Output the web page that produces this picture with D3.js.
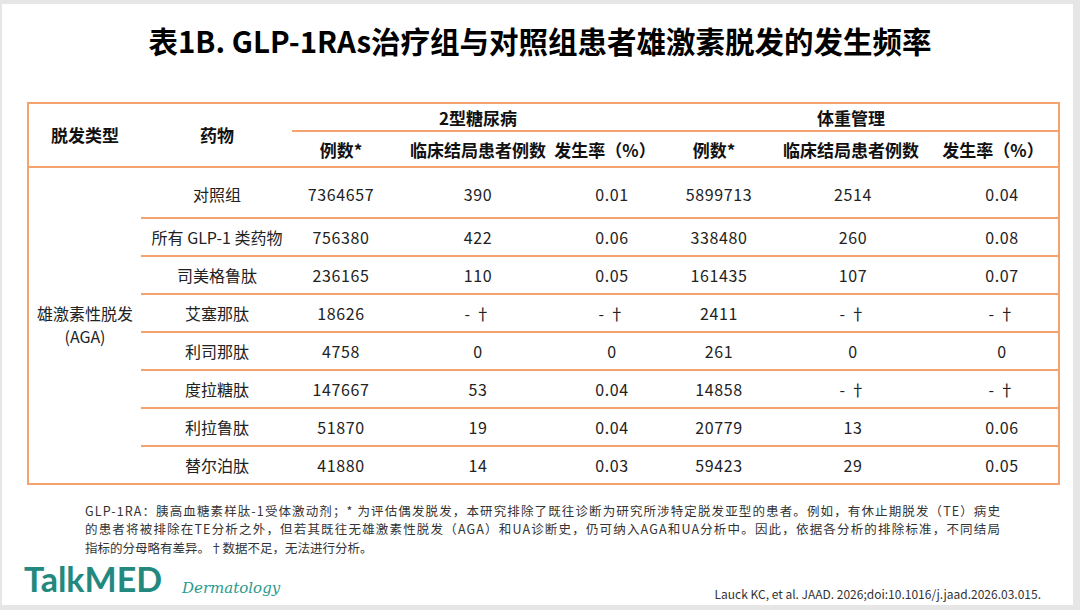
<!DOCTYPE html>
<html>
<head>
<meta charset="utf-8">
<script src="https://cdn.jsdelivr.net/npm/d3@7"></script>
<style>
  body { margin: 0; background: #fff; }
  svg { display: block; font-family: "Noto Sans CJK SC", "Noto Sans", sans-serif; }
</style>
</head>
<body>
<div id="main"></div>
<script>
// table data
var drugs = ["对照组", "所有 GLP-1 类药物", "司美格鲁肽", "艾塞那肽", "利司那肽", "度拉糖肽", "利拉鲁肽", "替尔泊肽"];
var t2dCases = ["7364657", "756380", "236165", "18626", "4758", "147667", "51870", "41880"];
var t2dOutcomes = ["390", "422", "110", "- †", "0", "53", "19", "14"];
var t2dRates = ["0.01", "0.06", "0.05", "- †", "0", "0.04", "0.04", "0.03"];
var wmCases = ["5899713", "338480", "161435", "2411", "261", "14858", "20779", "59423"];
var wmOutcomes = ["2514", "260", "107", "- †", "0", "- †", "13", "29"];
var wmRates = ["0.04", "0.08", "0.07", "- †", "0", "- †", "0.06", "0.05"];

var groups = ["2型糖尿病", "体重管理"];
var subHeaders = ["例数*", "临床结局患者例数", "发生率（%）"];

var titleText = "表1B. GLP-1RAs治疗组与对照组患者雄激素脱发的发生频率";
var noteLines = [
  "GLP-1RA：胰高血糖素样肽-1受体激动剂；* 为评估偶发脱发，本研究排除了既往诊断为研究所涉特定脱发亚型的患者。例如，有休止期脱发（TE）病史",
  "的患者将被排除在TE分析之外，但若其既往无雄激素性脱发（AGA）和UA诊断史，仍可纳入AGA和UA分析中。因此，依据各分析的排除标准，不同结局",
  "指标的分母略有差异。†数据不足，无法进行分析。"
];
var citation = "Lauck KC, et al. JAAD. 2026;doi:10.1016/j.jaad.2026.03.015.";

var W = 1080, H = 610;
var LINE = "#f4a26e";
var box = { left: 28, right: 1059, top: 103, bottom: 484 };
var headerMid = 131, headerBottom = 167, firstRowBottom = 218;

var svg = d3.select("#main").append("svg")
  .attr("width", W)
  .attr("height", H);

// slide frame
svg.append("rect").attr("width", W).attr("height", H).attr("fill", "#e6e6e6");
svg.append("rect").attr("x", 2).attr("y", 4).attr("width", W - 9).attr("height", H - 9).attr("fill", "#fff");

// title
svg.append("text")
  .attr("x", W / 2)
  .attr("y", 40)
  .attr("text-anchor", "middle")
  .attr("dominant-baseline", "central")
  .attr("font-size", 29.5)
  .attr("font-weight", 700)
  .attr("fill", "#000")
  .text(titleText);

// columns
var colKeys = ["type", "drug", "t2dCases", "t2dOutcomes", "t2dRates", "wmCases", "wmOutcomes", "wmRates"];
var xCol = d3.scaleOrdinal()
  .domain(colKeys)
  .range([85, 217, 341, 478, 605, 714, 851, 993]);
var xVal = d3.scaleOrdinal()
  .domain(colKeys)
  .range([85, 217, 341, 478, 612, 719, 853, 1002]);

// rows: first row taller, the rest evenly spaced
var rowTop = d3.scaleLinear().domain([1, drugs.length]).range([firstRowBottom, box.bottom]);
function rowCenter(i) {
  return i === 0 ? (headerBottom + firstRowBottom) / 2 + 1 : (rowTop(i) + rowTop(i + 1)) / 2;
}

var grid = svg.append("g").attr("stroke", LINE).attr("stroke-width", 2).attr("fill", "none");
grid.append("rect")
  .attr("x", box.left).attr("y", box.top)
  .attr("width", box.right - box.left).attr("height", box.bottom - box.top);
grid.append("line")
  .attr("x1", 292).attr("x2", box.right)
  .attr("y1", headerMid).attr("y2", headerMid);
grid.append("line")
  .attr("x1", box.left).attr("x2", box.right)
  .attr("y1", headerBottom).attr("y2", headerBottom);
grid.selectAll("line.row")
  .data(d3.range(1, drugs.length))
  .enter().append("line")
  .classed("row", true)
  .attr("x1", 141).attr("x2", box.right)
  .attr("y1", d => rowTop(d)).attr("y2", d => rowTop(d));

// header
var head = svg.append("g")
  .attr("font-size", 17)
  .attr("font-weight", 700)
  .attr("fill", "#111")
  .attr("text-anchor", "middle")
  .attr("dominant-baseline", "central");

head.append("text").attr("x", xCol("type")).attr("y", 134).text("脱发类型");
head.append("text").attr("x", xCol("drug")).attr("y", 134).text("药物");

head.selectAll("text.group")
  .data(groups)
  .enter().append("text")
  .classed("group", true)
  .attr("x", (d, i) => i === 0 ? xCol("t2dOutcomes") : xCol("wmOutcomes"))
  .attr("y", 117)
  .text(d => d);

var subCols = ["t2dCases", "t2dOutcomes", "t2dRates", "wmCases", "wmOutcomes", "wmRates"];
head.selectAll("text.sub")
  .data(subCols)
  .enter().append("text")
  .classed("sub", true)
  .attr("x", d => xCol(d))
  .attr("y", 149)
  .text((d, i) => subHeaders[i % 3]);

// body
var body = svg.append("g")
  .attr("font-size", 16)
  .attr("fill", "#222")
  .attr("text-anchor", "middle")
  .attr("dominant-baseline", "central");

body.append("text").attr("x", xCol("type")).attr("y", 313).text("雄激素性脱发");
body.append("text").attr("x", xCol("type")).attr("y", 336).text("(AGA)");

var columns = {
  drug: drugs,
  t2dCases: t2dCases,
  t2dOutcomes: t2dOutcomes,
  t2dRates: t2dRates,
  wmCases: wmCases,
  wmOutcomes: wmOutcomes,
  wmRates: wmRates
};

Object.keys(columns).forEach(function (key) {
  body.selectAll(null)
    .data(columns[key])
    .enter().append("text")
    .attr("x", xVal(key))
    .attr("y", (d, i) => rowCenter(i))
    .attr("letter-spacing", key === "drug" ? 0 : 0.6)
    .text(d => d);
});

// footnote
svg.append("g")
  .attr("font-size", 12.5)
  .attr("fill", "#333")
  .selectAll("text")
  .data(noteLines)
  .enter().append("text")
  .attr("x", 85)
  .attr("y", (d, i) => 516 + i * 18.3)
  .attr("textLength", (d, i) => i < 2 ? 915 : null)
  .attr("lengthAdjust", "spacing")
  .text(d => d);

// logo
svg.append("text")
  .attr("x", 24)
  .attr("y", 592)
  .attr("font-family", "Lato, 'Open Sans', sans-serif")
  .attr("font-size", 34)
  .attr("font-weight", 700)
  .attr("fill", "#23887e")
  .text("TalkMED");
svg.append("text")
  .attr("x", 182)
  .attr("y", 593)
  .attr("font-family", "'DejaVu Serif', serif")
  .attr("font-style", "italic")
  .attr("font-size", 15)
  .attr("fill", "#2a9a8e")
  .text("Dermatology");

// citation
svg.append("text")
  .attr("x", 1041)
  .attr("y", 599)
  .attr("text-anchor", "end")
  .attr("font-size", 12)
  .attr("fill", "#333")
  .text(citation);
</script>
</body>
</html>
